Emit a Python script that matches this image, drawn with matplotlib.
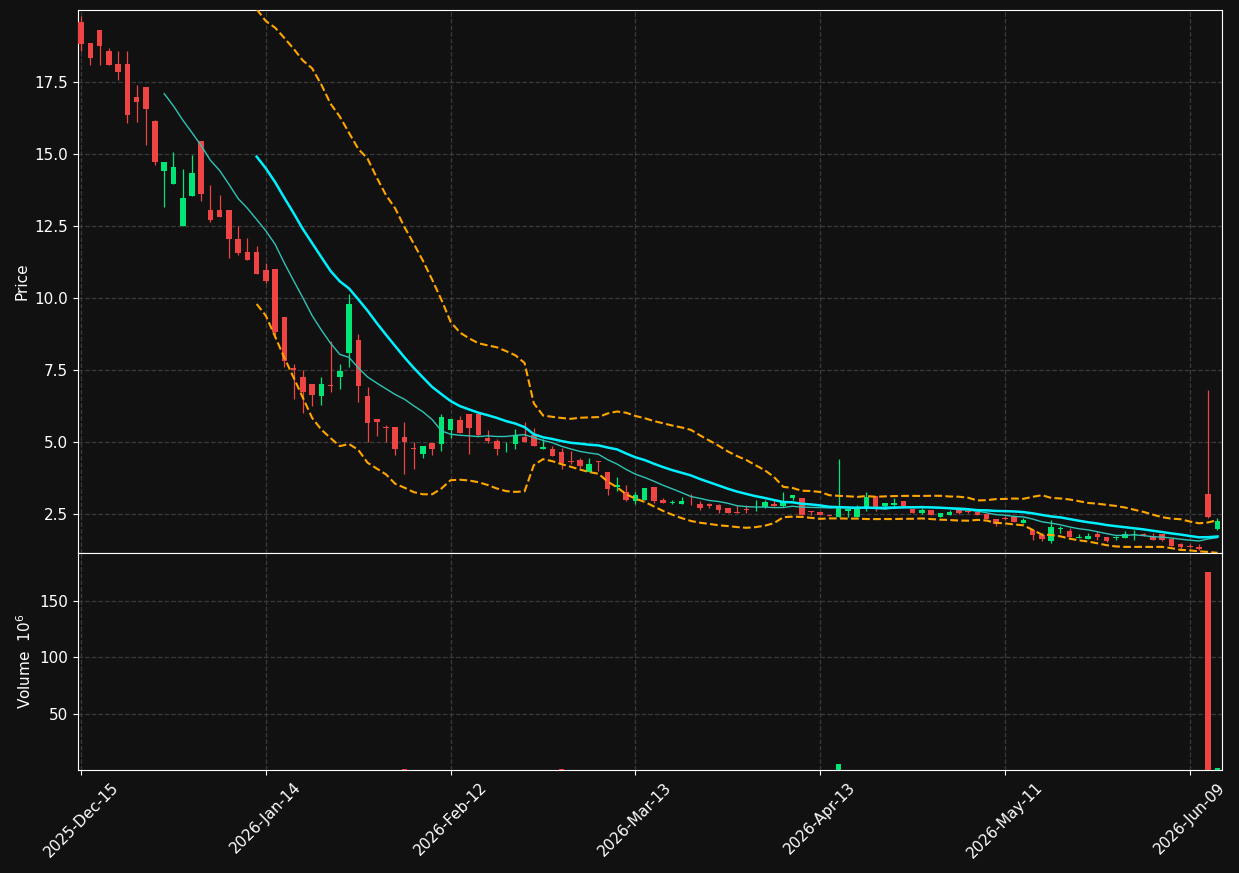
import numpy as np
import pandas as pd
import matplotlib
matplotlib.use("Agg")
import matplotlib.pyplot as plt

opens = [19.58,18.85,19.31,18.58,18.13,18.13,16.98,17.33,16.15,14.39,13.94,12.51,13.55,15.45,13.06,13.06,13.06,12.05,11.60,11.60,
         10.97,11.00,9.34,7.55,7.26,7.00,6.61,6.98,7.27,8.10,8.54,6.60,5.80,5.52,5.52,5.17,4.77,4.60,4.97,4.94,
         5.40,5.75,5.97,5.98,5.14,5.03,4.74,4.94,5.17,5.23,4.77,4.76,4.65,4.35,4.38,3.97,4.34,3.97,3.43,3.25,
         2.96,2.99,3.44,2.99,2.90,2.86,2.97,2.85,2.85,2.80,2.71,2.56,2.65,2.73,2.73,2.85,2.78,3.07,3.06,2.60,
         2.57,2.47,2.41,2.60,2.41,2.66,3.12,2.78,2.81,2.95,2.67,2.55,2.64,2.41,2.48,2.64,2.58,2.58,2.51,2.32,
         2.36,2.41,2.20,1.95,1.77,1.56,1.98,1.91,1.67,1.63,1.82,1.69,1.66,1.68,1.78,1.80,1.71,1.80,1.63,1.46,
         1.38,1.36,3.19,1.97]
closes = [18.80,18.34,18.73,18.07,17.82,16.33,16.78,16.54,14.70,14.72,14.55,13.47,14.34,13.59,12.69,12.79,12.03,11.57,11.33,10.84,
          10.60,8.81,7.82,7.50,6.75,6.64,7.02,6.95,7.47,9.79,6.96,5.67,5.70,5.50,4.77,5.00,4.75,4.86,4.77,5.87,
          5.80,5.31,5.50,5.24,5.03,4.77,4.77,5.24,5.00,4.87,4.82,4.52,4.26,4.30,4.17,4.24,4.30,3.37,3.50,3.00,
          3.16,3.40,2.95,2.88,2.93,2.96,2.94,2.71,2.78,2.64,2.55,2.55,2.63,2.75,2.92,2.78,2.95,3.16,2.46,2.57,
          2.47,2.44,2.73,2.66,2.73,3.10,2.66,2.87,2.88,2.79,2.55,2.65,2.48,2.52,2.57,2.52,2.56,2.48,2.33,2.15,
          2.33,2.23,2.31,1.77,1.63,2.05,2.00,1.71,1.72,1.75,1.70,1.56,1.69,1.80,1.81,1.78,1.60,1.60,1.39,1.34,
          1.36,1.28,2.41,2.26]
highs = [19.77,18.85,19.31,18.67,18.56,18.56,17.38,17.33,16.18,14.72,15.05,14.47,14.95,15.45,13.90,13.56,13.06,12.50,12.07,11.80,
         11.20,11.00,9.34,7.70,7.50,7.00,7.25,8.50,7.70,10.15,8.75,6.90,5.80,5.60,5.52,5.70,5.00,4.86,4.97,5.97,
         5.80,5.90,5.97,5.98,5.40,5.10,5.00,5.45,5.70,5.50,5.10,4.85,4.78,4.68,4.45,4.45,4.34,3.97,3.78,3.50,
         3.25,3.40,3.44,3.05,3.00,3.10,3.20,2.95,2.90,2.85,2.71,2.80,2.80,3.00,3.00,3.00,3.25,3.16,3.06,2.60,
         2.57,2.47,4.42,2.70,2.80,3.25,3.12,2.87,3.05,2.95,2.67,2.70,2.64,2.52,2.65,2.64,2.64,2.58,2.51,2.32,
         2.42,2.41,2.35,1.95,1.77,2.30,2.10,2.00,1.80,1.85,1.90,1.72,1.75,1.90,1.95,1.85,1.85,1.82,1.63,1.50,
         1.45,1.45,6.81,2.35]
lows = [18.55,18.09,18.09,18.07,17.55,16.06,16.09,15.29,14.61,13.15,13.94,12.51,13.55,13.35,12.65,12.79,11.38,11.50,11.33,10.84,
        10.50,8.70,7.60,6.50,6.00,6.25,6.30,6.75,6.85,7.60,6.40,5.00,5.20,5.00,4.55,3.90,4.05,4.45,4.55,4.68,
        5.15,5.31,4.60,5.20,4.98,4.56,4.65,4.76,5.00,4.85,4.77,4.52,4.05,4.25,4.10,3.97,4.00,3.15,3.30,2.95,
        2.85,2.99,2.90,2.88,2.85,2.85,2.80,2.65,2.70,2.55,2.55,2.55,2.55,2.60,2.70,2.78,2.75,3.00,2.46,2.45,
        2.45,2.42,2.41,2.40,2.41,2.60,2.60,2.70,2.75,2.70,2.55,2.50,2.45,2.41,2.48,2.50,2.55,2.48,2.33,2.10,
        2.30,2.23,2.20,1.60,1.55,1.50,1.85,1.71,1.67,1.63,1.60,1.52,1.60,1.68,1.60,1.75,1.60,1.58,1.39,1.30,
        1.33,1.25,2.37,1.95]
volumes = [0.5,0.4,0.4,0.3,0.3,0.5,0.3,0.4,0.5,0.4,0.4,0.5,0.4,0.5,0.3,0.3,0.4,0.3,0.3,0.3,
           0.4,0.6,0.5,0.4,0.4,0.3,0.3,0.4,0.3,0.8,0.6,0.5,0.3,0.3,0.4,1.6,0.5,0.3,0.3,0.5,
           0.4,0.3,0.4,0.4,0.3,0.3,0.3,0.3,0.3,0.3,0.3,0.3,0.9,0.3,0.3,0.3,0.3,0.4,0.3,0.3,
           0.3,0.4,0.4,0.3,0.3,0.3,0.3,0.3,0.3,0.3,0.3,0.3,0.3,0.3,0.3,0.3,0.3,0.3,0.5,0.3,
           0.3,0.3,5.5,0.4,0.5,0.6,0.5,0.3,0.3,0.3,0.3,0.3,0.3,0.3,0.3,0.3,0.3,0.3,0.3,0.3,
           0.3,0.3,0.3,0.4,0.3,0.5,0.3,0.3,0.3,0.3,0.3,0.3,0.3,0.3,0.3,0.3,0.3,0.3,0.3,0.3,
           0.3,0.3,175.0,1.8]
tick_pos = [0, 20, 40, 60, 80, 100, 120]
tick_labels = ["2025-Dec-15", "2026-Jan-14", "2026-Feb-12", "2026-Mar-13",
               "2026-Apr-13", "2026-May-11", "2026-Jun-09"]

BG = "#111111"
UP = "#00e676"
DOWN = "#ef4444"
GRID = "#3a3a3a"

o = np.array(opens); c = np.array(closes); h = np.array(highs); l = np.array(lows)
v = np.array(volumes)
x = np.arange(len(o))
s = pd.Series(c)
ma10 = s.rolling(10).mean()
ma20 = s.rolling(20).mean()
sd20 = s.rolling(20).std(ddof=0)
upper = ma20 + 2 * sd20
lower = ma20 - 2 * sd20

fig = plt.figure(figsize=(12.39, 8.73), dpi=100, facecolor=BG)
ax = fig.add_axes([0.063, 0.3666, 0.923, 0.622], facecolor=BG)
axv = fig.add_axes([0.063, 0.118, 0.923, 0.2486], facecolor=BG, sharex=ax)

up = c >= o
cols = np.where(up, UP, DOWN)
ax.vlines(x, l, h, colors=cols, linewidth=0.9, zorder=2)
body_bottom = np.minimum(o, c)
body_h = np.maximum(np.abs(c - o), 0.03)
ax.bar(x, body_h, bottom=body_bottom, width=0.6, color=cols, zorder=3)

ax.plot(x, ma10, color="#2ec4b6", linewidth=1.0, zorder=4)
ax.plot(x, ma20, color="#00f0ff", linewidth=1.8, zorder=4)
ax.plot(x, upper, color="#ffa500", linewidth=1.5, linestyle="--", zorder=4)
ax.plot(x, lower, color="#ffa500", linewidth=1.5, linestyle="--", zorder=4)

axv.bar(x, v, width=0.6, color=cols, zorder=3)

for a in (ax, axv):
    a.grid(True, color=GRID, linestyle="--", linewidth=0.9)
    a.set_axisbelow(True)
    for sp in a.spines.values():
        sp.set_color("white")
    a.tick_params(colors="white", labelsize=11)

ax.set_xlim(-0.33, 123.45)
ax.set_ylim(1.15, 19.99)
ax.set_yticks([2.5, 5.0, 7.5, 10.0, 12.5, 15.0, 17.5])
ax.set_yticklabels([f"{t:.1f}" for t in [2.5, 5.0, 7.5, 10.0, 12.5, 15.0, 17.5]])
ax.set_ylabel("Price", color="white", fontsize=11)
plt.setp(ax.get_xticklabels(), visible=False)

axv.set_ylim(0.4, 192)
axv.set_yticks([50, 100, 150])
axv.set_ylabel("Volume  $10^6$", color="white", fontsize=11)
axv.set_xticks(tick_pos)
axv.set_xticklabels(tick_labels, rotation=45, ha="center")

fig.savefig("out.png", dpi=100, facecolor=BG)
